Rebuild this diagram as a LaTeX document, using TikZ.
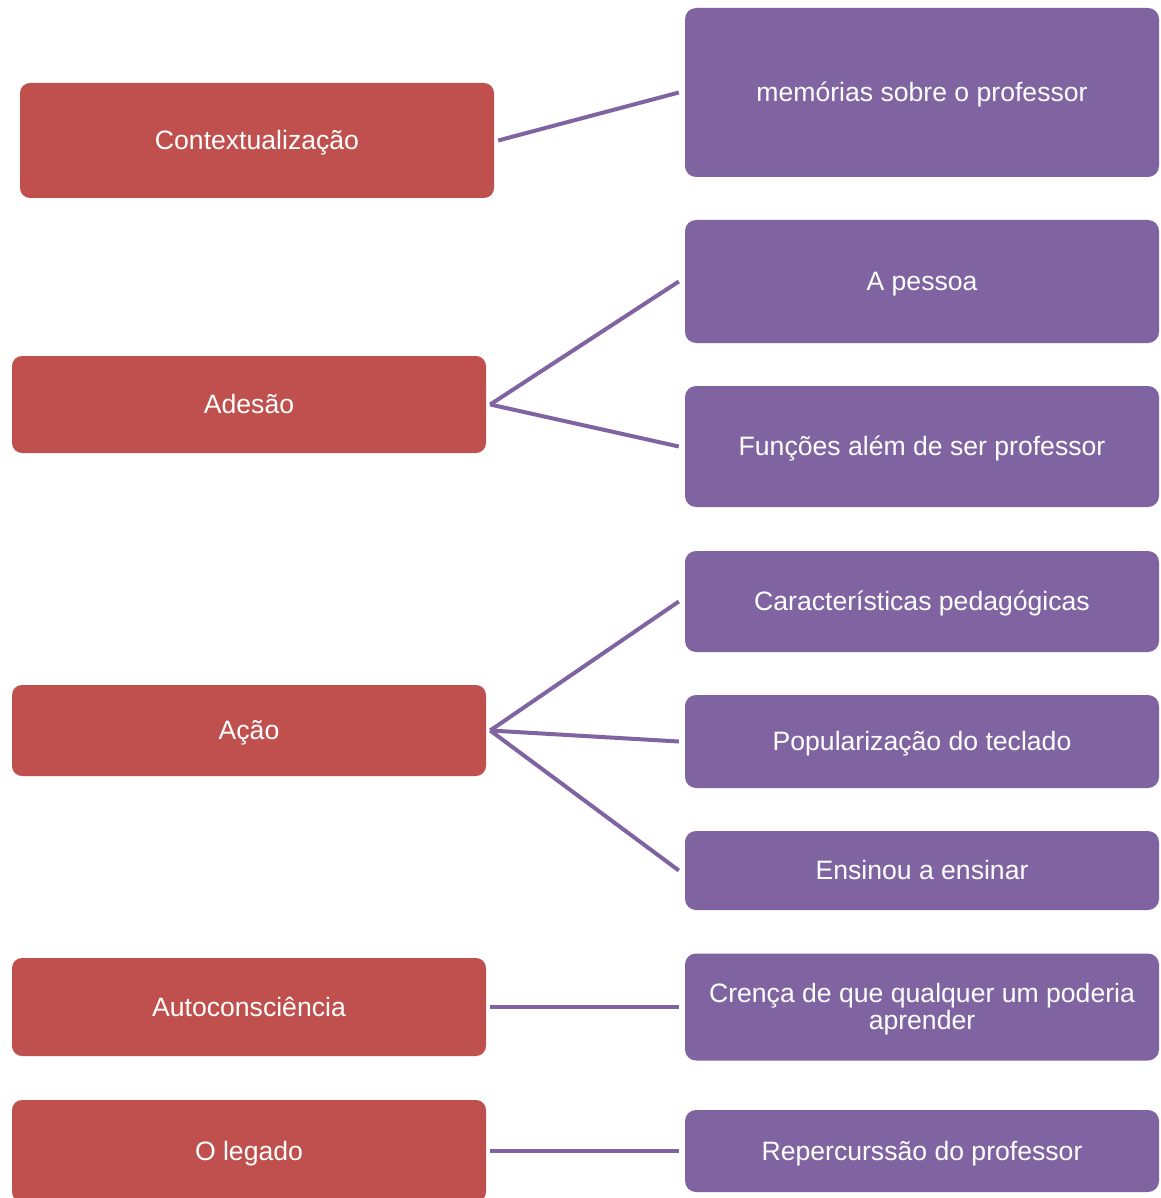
\documentclass[tikz,border=0pt]{standalone}
\usepackage{fontspec}
\setmainfont{Liberation Sans}
\usetikzlibrary{calc}
\definecolor{boxred}{HTML}{C0504D}
\definecolor{boxpurple}{HTML}{8064A2}
\begin{document}
\begin{tikzpicture}[x=1pt,y=-1pt,
  boxtext/.style={text=white, font=\fontsize{26.6}{27}\selectfont, align=center,
    inner sep=0pt, text height=18pt, text depth=0pt},
  redbox/.style={rectangle, rounded corners=10pt, fill=boxred, draw=none,
    minimum width=474pt, inner sep=0pt},
  purplebox/.style={rectangle, rounded corners=11pt, fill=boxpurple, draw=none,
    minimum width=474pt, inner sep=0pt},
  link/.style={draw=boxpurple, line width=4pt}]
\clip (0,0) rectangle (1160,1198);
\fill[white] (0,0) rectangle (1160,1198);
% red boxes
\node[redbox, minimum height=115pt, label={[boxtext]center:Contextualização}] (r1) at (257,140.5) {};
\node[redbox, minimum height=97pt, label={[boxtext]center:Adesão}] (r2) at (249,404.5) {};
\node[redbox, minimum height=91pt, label={[boxtext]center:Ação}] (r3) at (249,730.5) {};
\node[redbox, minimum height=98pt, label={[boxtext]center:Autoconsciência}] (r4) at (249,1007) {};
\node[redbox, minimum height=102pt, label={[boxtext]center:O legado}] (r5) at (249,1151) {};
% purple boxes
\node[purplebox, minimum height=169pt, label={[boxtext]center:memórias sobre o professor}] (p1) at (922,92.5) {};
\node[purplebox, minimum height=123pt, label={[boxtext]center:A pessoa}] (p2) at (922,281.5) {};
\node[purplebox, minimum height=121pt, label={[boxtext]center:Funções além de ser professor}] (p3) at (922,446.5) {};
\node[purplebox, minimum height=101pt, label={[boxtext]center:Características pedagógicas}] (p4) at (922,601.5) {};
\node[purplebox, minimum height=93pt, label={[boxtext]center:Popularização do teclado}] (p5) at (922,741.5) {};
\node[purplebox, minimum height=79pt, label={[boxtext]center:Ensinou a ensinar}] (p6) at (922,870.5) {};
\node[purplebox, minimum height=107pt, label={[boxtext, yshift=-13.5pt]center:{Crença de que qualquer um poderia\\aprender}}] (p7) at (922,1007) {};
\node[purplebox, minimum height=82pt, label={[boxtext]center:Repercurssão do professor}] (p8) at (922,1151) {};
% connector end points
\coordinate (s1) at ($(r1.east)+(4,0)$);
\coordinate (s2) at ($(r2.east)+(4,0)$);
\coordinate (s3) at ($(r3.east)+(4,0)$);
\coordinate (s4) at ($(r4.east)+(4,0)$);
\coordinate (s5) at ($(r5.east)+(4,0)$);
\foreach \i in {1,...,8}{\coordinate (e\i) at ($(p\i.west)+(-6,0)$);}
% connectors
\draw[link] (s1) -- (e1);
\draw[link] (s2) -- (e2);
\draw[link] (s2) -- (e3);
\draw[link] (s3) -- (e4);
\draw[link] (s3) -- (e5);
\draw[link] (s3) -- (e6);
\draw[link] (s4) -- (e7);
\draw[link] (s5) -- (e8);
\end{tikzpicture}
\end{document}
